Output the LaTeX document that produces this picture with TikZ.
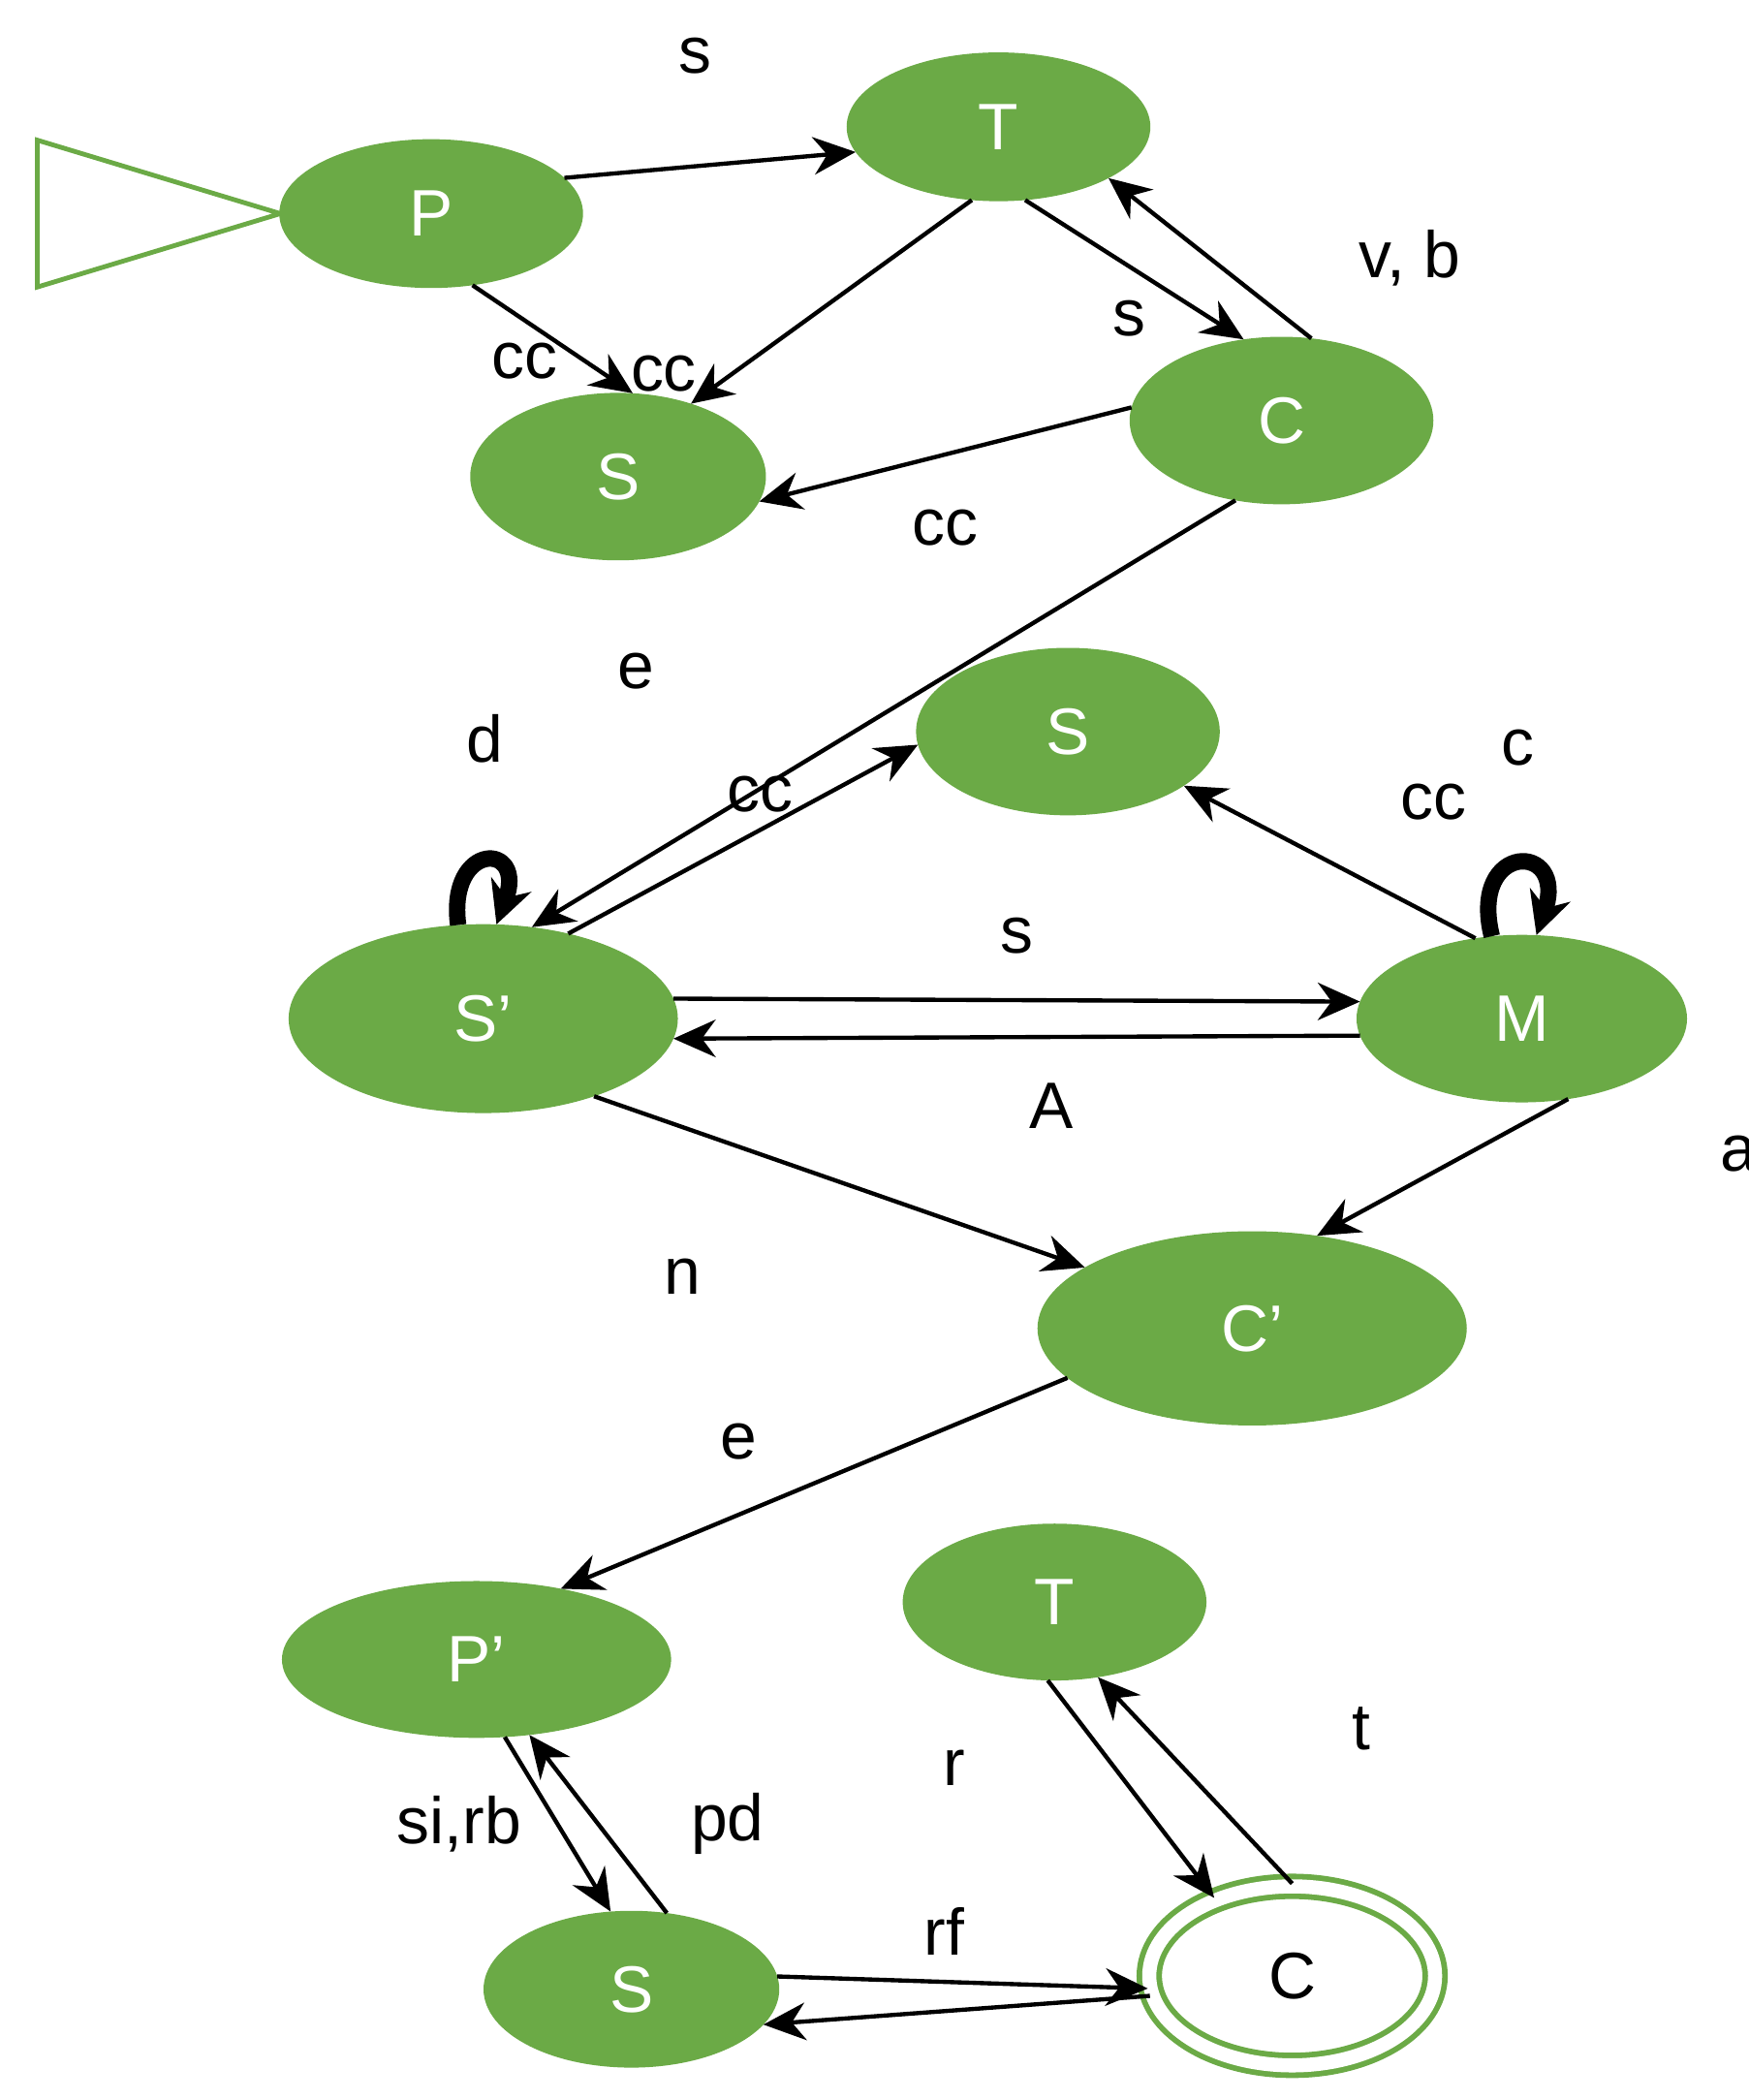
\documentclass[tikz,border=0pt]{standalone}
\usepackage{fontspec}
\setmainfont{Liberation Sans}
\usetikzlibrary{arrows.meta,shapes.geometric,positioning}
\definecolor{gr}{HTML}{6BAA46}
\begin{document}
\begin{tikzpicture}[x=0.01cm,y=-0.01cm,
 st/.style={ellipse,fill=gr,draw=gr,text=white,font=\fontsize{14}{14}\selectfont,inner sep=0pt},
 e/.style={-{Stealth[length=9pt,width=8pt]},line width=0.9pt},
 lb/.style={font=\fontsize{14}{14}\selectfont}]
\useasboundingbox (0,0) rectangle (1310,1573);
\node[st,minimum width=2.26cm,minimum height=1.10cm] (P) at (323,160) {P};
\node[st,minimum width=2.26cm,minimum height=1.10cm] (T) at (748,95) {T};
\node[st,minimum width=2.20cm,minimum height=1.24cm] (S1) at (463,357) {S};
\node[st,minimum width=2.26cm,minimum height=1.24cm] (C1) at (960,315) {C};
\node[st,minimum width=2.26cm,minimum height=1.24cm] (S2) at (800,548) {S};
\node[st,minimum width=2.90cm,minimum height=1.40cm] (Sp) at (362,763) {S’};
\node[st,minimum width=2.46cm,minimum height=1.24cm] (M) at (1140,763) {M};
\node[st,minimum width=3.20cm,minimum height=1.44cm] (Cp) at (938,995) {C’};
\node[st,minimum width=2.90cm,minimum height=1.16cm] (Pp) at (357,1243) {P’};
\node[st,minimum width=2.26cm,minimum height=1.16cm] (T2) at (790,1200) {T};
\node[st,minimum width=2.20cm,minimum height=1.16cm] (S3) at (473,1490) {S};
\node[ellipse,draw=gr,double=white,double distance=3pt,line width=1.2pt,minimum width=2.14cm,minimum height=1.34cm,font=\fontsize{14}{14}\selectfont] (C2) at (968,1480) {C};
\coordinate (t1) at (28,105); \coordinate (t2) at (28,215); \coordinate (t3) at (210,160);
\draw[gr,line width=1pt] (t1) -- (t3) -- (t2) -- cycle;
\draw[e] (P.15) -- (T.190) node[lb,pos=0.45,above=16pt] {s};
\draw[e] (P.-60) -- (S1.80) node[lb,pos=0.7,left=2pt] {cc};
\draw[e] (T.-110) -- (S1.45) node[lb,pos=0.85,left=4pt] {cc};
\draw[e] (T.-70) -- (C1.115) node[lb,pos=0.85,left=10pt] {s};
\draw[e] (C1.70) -- (T.-25) node[lb,pos=0.5,right=28pt] {v, b};
\draw[e] (C1.175) -- (S1.-10) node[lb,pos=0.5,below=8pt] {cc};
\draw[e] (C1.-120) -- (Sp.62) node[lb,pos=0.4,left=60pt] {e};
\draw[e] (Sp.45) -- (S2.185) node[lb,pos=0.55,above=0pt] {cc};
\draw[e] (M.120) -- (S2.-25) node[lb,pos=0.35,above right=10pt and 2pt] {cc};
\draw[e] (Sp.6) -- (M.174) node[lb,pos=0.5,above=6pt] {s};
\draw[e] (M.186) -- (Sp.-6) node[lb,pos=0.45,below=6pt] {A};
\draw[e] (Sp.-35) -- (Cp.160) node[lb,pos=0.35,below left=18pt and 10pt] {n};
\draw[e] (M.-60) -- (Cp.55) node[lb,pos=0.4,right=50pt] {a};
\draw[e] (Cp.-165) -- (Pp.40) node[lb,pos=0.3,left=30pt] {e};
\draw[e] (Pp.-70) -- (S3.105) node[lb,pos=0.5,left=4pt] {si,rb};
\draw[e] (S3.65) -- (Pp.-55) node[lb,pos=0.5,right=16pt] {pd};
\draw[e] (T2.-95) -- (C2.135) node[lb,pos=0.4,left=28pt] {r};
\draw[e] (C2.90) -- (T2.-60) node[lb,pos=0.75,right=40pt] {t};
\draw[e] (S3.5) -- (C2.185) node[lb,pos=0.45,above=2pt] {rf};
\draw[e] (C2.-172) -- (S3.-15);
\draw[-{Stealth[length=9pt,width=9pt]},line width=3.5pt] (Sp.105) .. controls (335,630) and (395,630) .. (Sp.82) node[lb,pos=0.5,above=16pt] {d};
\draw[-{Stealth[length=9pt,width=9pt]},line width=3.5pt] (M.110) .. controls (1100,630) and (1175,630) .. (M.80) node[lb,pos=0.5,above=16pt] {c};
\end{tikzpicture}
\end{document}
